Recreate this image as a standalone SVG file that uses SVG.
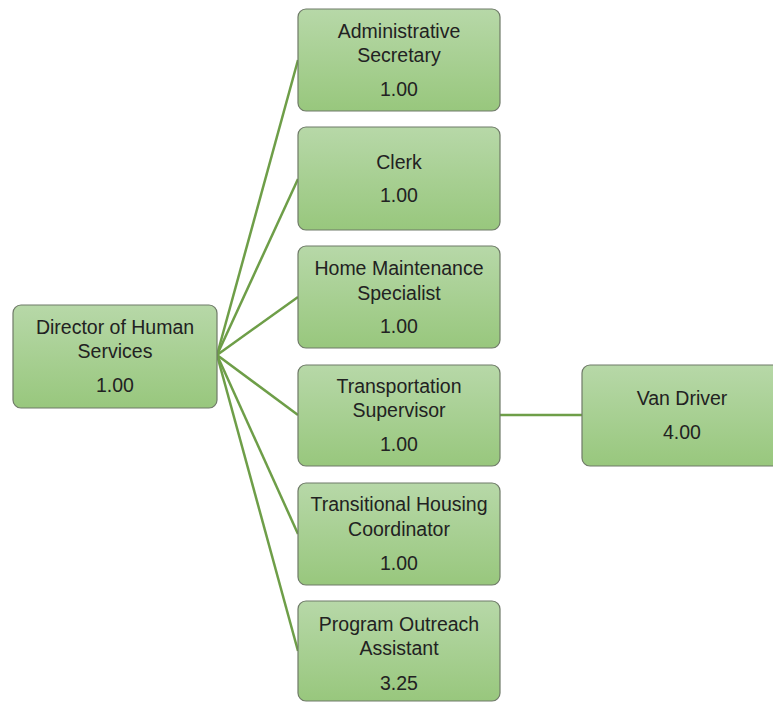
<svg xmlns="http://www.w3.org/2000/svg" width="773" height="702" viewBox="0 0 773 702">
<defs>
<linearGradient id="g" x1="0" y1="0" x2="0" y2="1">
<stop offset="0" stop-color="#b7d8a8"/>
<stop offset="1" stop-color="#98c77d"/>
</linearGradient>
<style>
.box{fill:url(#g);stroke:#6f7a68;stroke-width:1.2}
.t{font-family:"Liberation Sans",Arial,sans-serif;font-size:19.5px;fill:#222;text-anchor:middle}
.c{stroke:#6e9e48;stroke-width:2.5;fill:none}
</style>
</defs>
<rect width="773" height="702" fill="#fff"/>
<g id="connectors">
<line class="c" x1="217" y1="355" x2="298" y2="60"/>
<line class="c" x1="217" y1="355" x2="298" y2="179"/>
<line class="c" x1="217" y1="355" x2="298" y2="297"/>
<line class="c" x1="217" y1="355" x2="298" y2="415"/>
<line class="c" x1="217" y1="355" x2="298" y2="534"/>
<line class="c" x1="217" y1="355" x2="298" y2="651"/>
<line class="c" x1="500" y1="415" x2="582" y2="415"/>
</g>
<g id="director">
<rect class="box" x="13" y="305" width="204" height="103" rx="8"/>
<text class="t" x="115" y="334">Director of Human</text>
<text class="t" x="115" y="358">Services</text>
<text class="t" x="115" y="392">1.00</text>
</g>
<g id="admin">
<rect class="box" x="298" y="9" width="202" height="102" rx="8"/>
<text class="t" x="399" y="38">Administrative</text>
<text class="t" x="399" y="62">Secretary</text>
<text class="t" x="399" y="96">1.00</text>
</g>
<g id="clerk">
<rect class="box" x="298" y="127" width="202" height="103" rx="8"/>
<text class="t" x="399" y="169">Clerk</text>
<text class="t" x="399" y="202">1.00</text>
</g>
<g id="home">
<rect class="box" x="298" y="246" width="202" height="102" rx="8"/>
<text class="t" x="399" y="275">Home Maintenance</text>
<text class="t" x="399" y="300">Specialist</text>
<text class="t" x="399" y="333">1.00</text>
</g>
<g id="transport">
<rect class="box" x="298" y="365" width="202" height="101" rx="8"/>
<text class="t" x="399" y="393">Transportation</text>
<text class="t" x="399" y="417">Supervisor</text>
<text class="t" x="399" y="451">1.00</text>
</g>
<g id="housing">
<rect class="box" x="298" y="483" width="202" height="102" rx="8"/>
<text class="t" x="399" y="511">Transitional Housing</text>
<text class="t" x="399" y="536">Coordinator</text>
<text class="t" x="399" y="570">1.00</text>
</g>
<g id="outreach">
<rect class="box" x="298" y="601" width="202" height="100" rx="8"/>
<text class="t" x="399" y="631">Program Outreach</text>
<text class="t" x="399" y="655">Assistant</text>
<text class="t" x="399" y="690">3.25</text>
</g>
<g id="van">
<rect class="box" x="582" y="365" width="200" height="101" rx="8"/>
<text class="t" x="682" y="405">Van Driver</text>
<text class="t" x="682" y="439">4.00</text>
</g>
</svg>
